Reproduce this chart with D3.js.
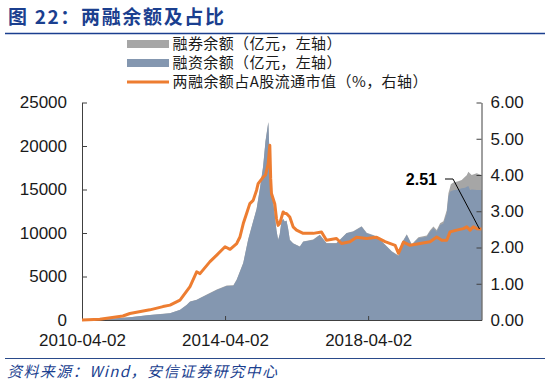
<!DOCTYPE html>
<html>
<head>
<meta charset="utf-8">
<script src="https://cdn.jsdelivr.net/npm/d3@7"></script>
<style>
  html, body { margin: 0; padding: 0; background: #fff; }
  svg { display: block; }
  .tick text { font-family: "Liberation Sans", Arial, sans-serif; font-size: 17px; fill: #1a1a1a; }
</style>
</head>
<body>
<div id="chart"></div>
<script>
// balances (亿元), left axis
const balDates = [
  '2010-04-02','2010-10-01','2011-05-25','2011-08-04','2012-02-24','2012-07-07','2012-09-17','2012-12-28',
  '2013-03-07','2013-04-09','2013-06-16','2013-07-20','2013-09-27','2014-01-07','2014-04-19','2014-06-26',
  '2014-07-30','2014-10-05','2014-11-24','2015-01-14','2015-02-18','2015-03-23','2015-04-26','2015-05-20',
  '2015-06-18','2015-06-30','2015-07-10','2015-08-06','2015-08-23','2015-09-09','2015-09-26','2015-10-12',
  '2015-10-30','2015-11-16','2015-12-03','2015-12-20','2016-01-06','2016-01-23','2016-02-26','2016-05-05',
  '2016-06-08','2016-09-18','2016-11-25','2017-02-01','2017-05-14','2017-08-25','2017-11-01','2018-01-26',
  '2018-03-18','2018-06-29','2018-09-22','2018-11-30','2019-02-06','2019-03-12','2019-05-02','2019-06-22',
  '2019-08-29','2019-11-22','2019-12-26','2020-01-29','2020-03-03','2020-04-06','2020-05-10','2020-06-13',
  '2020-06-30','2020-07-17','2020-07-25','2020-08-20','2020-10-10','2020-11-13','2020-12-17','2021-01-03',
  '2021-01-20','2021-02-06','2021-02-23','2021-04-15','2021-06-03'
];
// 融资余额
const financing = [
  0, 60, 250, 310, 575, 700, 770, 1150,
  1720, 2100, 2300, 2500, 2870, 3450, 3910, 3950,
  4600, 6520, 9200, 11300, 12700, 15000, 17600, 20500,
  22700, 19000, 15500, 13500, 12000, 10300, 9200, 9800,
  11300, 11600, 11300, 11400, 10500, 9200, 8800, 8420,
  9000, 9200, 9770, 8800, 8800, 9960, 10150, 10720,
  9960, 9570, 8620, 7850, 7350, 8800, 9770, 8620,
  9390, 9570, 10150, 10540, 10150, 10920, 11100, 12270,
  14170, 14750, 14800, 14900, 15000, 15140, 15200, 15330,
  15400, 14940, 15000, 14940, 14940
];
// 融券余额
const lending = [
  0, 0, 2, 3, 5, 10, 15, 20,
  30, 40, 40, 40, 50, 50, 50, 50,
  60, 70, 80, 80, 80, 90, 100, 100,
  100, 60, 30, 40, 40, 30, 30, 30,
  30, 30, 30, 30, 30, 30, 30, 30,
  30, 40, 40, 40, 40, 50, 50, 60,
  60, 60, 60, 60, 60, 70, 80, 80,
  120, 150, 180, 200, 200, 200, 250, 350,
  400, 500, 800, 900, 950, 950, 1270, 1300,
  1650, 1900, 1670, 1920, 1730
];

// 两融余额占A股流通市值 (%), right axis
const ratioDates = [
  '2010-04-02','2010-10-01','2011-05-25','2011-08-04','2012-02-24','2012-07-07','2012-09-17','2012-12-28',
  '2013-04-09','2013-06-16','2013-07-20','2013-10-30','2014-01-07','2014-04-02','2014-05-23','2014-07-30',
  '2014-09-01','2014-10-05','2014-11-08','2014-12-11','2015-01-14','2015-02-18','2015-03-06','2015-04-26',
  '2015-05-20','2015-06-16','2015-07-03','2015-07-12','2015-07-20','2015-07-25','2015-08-23','2015-09-09',
  '2015-09-26','2015-10-12','2015-11-16','2015-12-03','2015-12-20','2016-01-23','2016-02-26','2016-04-01',
  '2016-06-08','2016-09-18','2016-12-12','2017-02-01','2017-05-14','2017-07-05','2017-09-28','2017-12-05',
  '2018-03-18','2018-06-29','2018-09-22','2019-01-03','2019-02-06','2019-03-29','2019-06-05','2019-09-15',
  '2019-12-26','2020-03-03','2020-04-23','2020-06-13','2020-07-17','2020-09-23','2020-11-30','2021-01-03',
  '2021-02-06','2021-03-12','2021-04-15','2021-06-03'
];
const ratio = [
  0.00, 0.02, 0.11, 0.18, 0.28, 0.37, 0.41, 0.55,
  0.92, 1.33, 1.28, 1.61, 1.79, 2.02, 1.95, 2.11,
  2.29, 2.66, 2.94, 3.21, 3.30, 3.58, 3.76, 3.94,
  4.00, 4.30, 4.82, 3.90, 3.49, 3.45, 3.20, 2.80,
  2.61, 2.66, 2.98, 2.94, 2.94, 2.84, 2.57, 2.48,
  2.39, 2.39, 2.43, 2.20, 2.25, 2.11, 2.16, 2.28,
  2.25, 2.28, 2.16, 2.06, 1.84, 2.15, 2.06, 2.11,
  2.16, 2.29, 2.20, 2.20, 2.43, 2.48, 2.52, 2.57,
  2.48, 2.57, 2.52, 2.51
];

const xTicks = ['2010-04-02', '2014-04-02', '2018-04-02'];
const leftTicks = [0, 5000, 10000, 15000, 20000, 25000];
const rightTicks = [0, 1, 2, 3, 4, 5, 6];
const legendLabels = ['融券余额（亿元，左轴）', '融资余额（亿元，左轴）', '两融余额占A股流通市值（%，右轴）'];

const parse = d3.timeParse('%Y-%m-%d');
const W = 550, H = 384;
const plotLeft = 82, plotRight = 481.5, plotTop = 102.5, plotBottom = 320;
const blue = '#1b3f8f';

const svg = d3.select('#chart').append('svg').attr('width', W).attr('height', H);

// title
svg.append('text')
  .attr('x', 8).attr('y', 24)
  .attr('font-family', '"Noto Sans CJK SC", sans-serif')
  .attr('font-weight', 'bold').attr('font-size', 19)
  .attr('textLength', 216).attr('lengthAdjust', 'spacing')
  .attr('fill', blue)
  .text('图 22：两融余额及占比');
svg.append('line').attr('x1', 5).attr('x2', 545).attr('y1', 33.5).attr('y2', 33.5)
  .attr('stroke', blue).attr('stroke-width', 1.5);

// footer
svg.append('line').attr('x1', 5).attr('x2', 545).attr('y1', 358.5).attr('y2', 358.5)
  .attr('stroke', '#2a4a8a').attr('stroke-width', 1);
svg.append('text')
  .attr('x', 7).attr('y', 377)
  .attr('font-family', '"Noto Sans CJK SC", sans-serif')
  .attr('font-style', 'italic').attr('font-size', 15)
  .attr('textLength', 270).attr('lengthAdjust', 'spacing')
  .attr('fill', blue)
  .text('资料来源：Wind，安信证券研究中心');

// scales
const x = d3.scaleTime()
  .domain([parse(balDates[0]), parse(balDates[balDates.length - 1])])
  .range([plotLeft, plotRight]);
const yL = d3.scaleLinear().domain([0, 25000]).range([plotBottom, plotTop]);
const yR = d3.scaleLinear().domain([0, 6]).range([plotBottom, plotTop]);

const bal = balDates.map((d, i) => ({ date: parse(d), rz: financing[i], rq: lending[i] }));
const rat = ratioDates.map((d, i) => ({ date: parse(d), v: ratio[i] }));

// areas
svg.append('path').datum(bal)
  .attr('fill', '#a6a6a6')
  .attr('d', d3.area().x(d => x(d.date)).y0(yL(0)).y1(d => yL(d.rz + d.rq)));
svg.append('path').datum(bal)
  .attr('fill', '#8497b0')
  .attr('d', d3.area().x(d => x(d.date)).y0(yL(0)).y1(d => yL(d.rz)));

// axes
const axisColor = '#404040';
const gL = svg.append('g').attr('transform', `translate(${plotLeft},0)`)
  .call(d3.axisLeft(yL).tickValues(leftTicks).tickFormat(d3.format('d'))
    .tickSizeInner(-5).tickSizeOuter(0).tickPadding(15));
const gR = svg.append('g').attr('transform', `translate(${plotRight},0)`)
  .call(d3.axisRight(yR).tickValues(rightTicks).tickFormat(d3.format('.2f'))
    .tickSizeInner(-5).tickSizeOuter(0).tickPadding(9));
const gB = svg.append('g').attr('transform', `translate(0,${plotBottom})`)
  .call(d3.axisBottom(x).tickValues(xTicks.map(parse)).tickFormat(d3.timeFormat('%Y-%m-%d'))
    .tickSizeInner(-4).tickSizeOuter(0).tickPadding(14));
[gL, gR, gB].forEach(g => {
  g.select('.domain').attr('stroke', axisColor);
  g.selectAll('.tick line').attr('stroke', axisColor);
  g.attr('font-family', null).attr('font-size', null);
});

// ratio line
svg.append('path').datum(rat)
  .attr('fill', 'none')
  .attr('stroke', '#ed7d31')
  .attr('stroke-width', 3)
  .attr('stroke-linejoin', 'round')
  .attr('d', d3.line().x(d => x(d.date)).y(d => yR(d.v)));

// annotation for last value
const last = rat[rat.length - 1];
svg.append('path')
  .attr('fill', 'none').attr('stroke', '#000').attr('stroke-width', 1)
  .attr('d', `M445,179H453L${x(last.date) - 2},${yR(last.v)}`);
svg.append('text')
  .attr('x', 437).attr('y', 185).attr('text-anchor', 'end')
  .attr('font-family', '"Liberation Sans", Arial, sans-serif')
  .attr('font-weight', 'bold').attr('font-size', 16)
  .text(last.v.toFixed(2));

// legend
const lg = svg.append('g')
  .attr('font-family', '"Noto Sans CJK SC", sans-serif')
  .attr('font-size', 15).attr('fill', '#1a1a1a');
const rows = [44, 63, 82];
const rowWidths = [169, 169, 255];
lg.append('rect').attr('x', 127).attr('y', rows[0] - 4).attr('width', 42).attr('height', 8).attr('fill', '#a6a6a6');
lg.append('rect').attr('x', 127).attr('y', rows[1] - 4).attr('width', 42).attr('height', 8).attr('fill', '#8497b0');
lg.append('line').attr('x1', 127).attr('x2', 169).attr('y1', rows[2]).attr('y2', rows[2])
  .attr('stroke', '#ed7d31').attr('stroke-width', 3);
legendLabels.forEach((t, i) => {
  lg.append('text').attr('x', 172.5).attr('y', rows[i]).attr('dy', '0.36em')
    .attr('textLength', rowWidths[i]).attr('lengthAdjust', 'spacing')
    .text(t);
});
</script>
</body>
</html>
